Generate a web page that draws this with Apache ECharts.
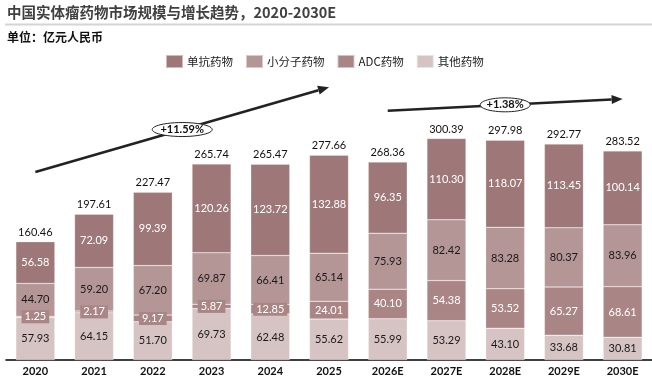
<!DOCTYPE html>
<html><head><meta charset="utf-8">
<script src="https://cdn.jsdelivr.net/npm/echarts@6/dist/echarts.min.js"></script>
<style>html,body{margin:0;padding:0;background:#fff}#c{width:652px;height:379px}</style>
</head><body><div id="c"></div>
<script>
var categories = ['2020','2021','2022','2023','2024','2025','2026E','2027E','2028E','2029E','2030E'];
var antibody = [56.58,72.09,99.39,120.26,123.72,132.88,96.35,110.30,118.07,113.45,100.14];
var smallMol = [44.70,59.20,67.20,69.87,66.41,65.14,75.93,82.42,83.28,80.37,83.96];
var adc = [1.25,2.17,9.17,5.87,12.85,24.01,40.10,54.38,53.52,65.27,68.61];
var others = [57.93,64.15,51.70,69.73,62.48,55.62,55.99,53.29,43.10,33.68,30.81];
var totals = [160.46,197.61,227.47,265.74,265.47,277.66,268.36,300.39,297.98,292.77,283.52];
var seriesNames = ['单抗药物','小分子药物','ADC药物','其他药物'];
var growth1 = {text:'+11.59%', from:['2020',255], to:['2025',370]};
var growth2 = {text:'+1.38%', from:['2026E',338], to:['2030E',354]};

var colors = {'单抗药物':'#9e7878','小分子药物':'#b59696','ADC药物':'#aa8585','其他药物':'#d6c4c4'};
var numFont = 'Lato, "Noto Sans", sans-serif';
var cjkFont = '"Noto Sans CJK SC", sans-serif';

function lbl(color, bg){
  var o = {show:true, position:'inside', color:color, fontFamily:numFont, fontSize:11,
    formatter:function(p){return p.value.toFixed(2);}};
  if(bg){o.backgroundColor=bg; o.padding=[1,3];}
  return o;
}
function mk(name, data, label){
  return {name:name, type:'bar', stack:'s', data:data, barWidth:39,
    itemStyle:{color:colors[name], borderColor:'rgba(255,255,255,0.5)', borderWidth:0.5},
    label:label, silent:true};
}
var chart = echarts.init(document.getElementById('c'), null, {renderer:'canvas'});
chart.setOption({
  animation:false,
  grid:{left:6, top:65, width:650, height:295, containLabel:false},
  legend:{data:seriesNames, left:165, top:54, padding:0, itemWidth:17, itemHeight:13, itemGap:12,
    icon:'rect', textStyle:{fontFamily:cjkFont, fontSize:11.5, color:'#222', padding:[0,0,0,-1]}},
  xAxis:{type:'category', data:categories,
    axisLine:{lineStyle:{color:'#000', width:1.5}}, axisTick:{show:false},
    axisLabel:{fontFamily:numFont, fontWeight:'bold', fontSize:11, color:'#111', margin:6}},
  yAxis:{type:'value', min:0, max:400, show:false, splitLine:{show:false}},
  series:[
    mk('其他药物', others, lbl('#1a1a1a')),
    mk('ADC药物', adc, lbl('#ffffff', colors['ADC药物'])),
    mk('小分子药物', smallMol, lbl('#1a1a1a')),
    mk('单抗药物', antibody, lbl('#ffffff')),
    {name:'total', type:'bar', data:totals, barWidth:39, barGap:'-100%', z:1, silent:true,
      itemStyle:{color:'rgba(0,0,0,0)'},
      label:{show:true, position:'top', distance:4, color:'#111', fontFamily:numFont, fontSize:11,
        formatter:function(p){return p.value.toFixed(2);}}}
  ],
  graphic:[
    {type:'text', left:7, top:5, style:{text:'中国实体瘤药物市场规模与增长趋势，2020-2030E',
      fontFamily:'"Noto Sans CJK SC", sans-serif', fontSize:14.5, fontWeight:'bold', fill:'#404040'}},
    {type:'line', shape:{x1:5, y1:24.5, x2:652, y2:24.5}, style:{stroke:'#d4d4d4', lineWidth:2}},
    {type:'text', left:7, top:31, style:{text:'单位：亿元人民币',
      fontFamily:cjkFont, fontSize:12, fontWeight:'bold', fill:'#111'}}
  ]
});

function arrowGraphics(g, rx, ry){
  var a = chart.convertToPixel({gridIndex:0}, g.from);
  var b = chart.convertToPixel({gridIndex:0}, g.to);
  var ang = Math.atan2(b[1]-a[1], b[0]-a[0]);
  var L = 11, W = 4.5;
  var bx = b[0]-L*Math.cos(ang), by = b[1]-L*Math.sin(ang);
  var tri = [[b[0],b[1]],[bx+W*Math.sin(ang), by-W*Math.cos(ang)],[bx-W*Math.sin(ang), by+W*Math.cos(ang)]];
  var mx=(a[0]+b[0])/2, my=(a[1]+b[1])/2;
  var pts=[];
  for(var i=0;i<48;i++){var t=i/48*2*Math.PI; pts.push([mx+rx*Math.cos(t), my+ry*Math.sin(t)]);}
  return [
    {type:'line', z:10, shape:{x1:a[0],y1:a[1],x2:bx,y2:by}, style:{stroke:'#222', lineWidth:2.6}},
    {type:'polygon', z:10, shape:{points:tri}, style:{fill:'#222'}},
    {type:'polygon', z:11, shape:{points:pts}, style:{fill:'#fff', stroke:'#222', lineWidth:1}},
    {type:'text', z:12, x:mx, y:my, style:{text:g.text, fontFamily:numFont, fontSize:11, fontWeight:'bold',
      fill:'#111', align:'center', verticalAlign:'middle'}}
  ];
}
var extra = arrowGraphics(growth1, 30, 7).concat(arrowGraphics(growth2, 25, 7));
var opt = chart.getOption();
chart.setOption({graphic:opt.graphic[0].elements.concat(extra)});
</script></body></html>
